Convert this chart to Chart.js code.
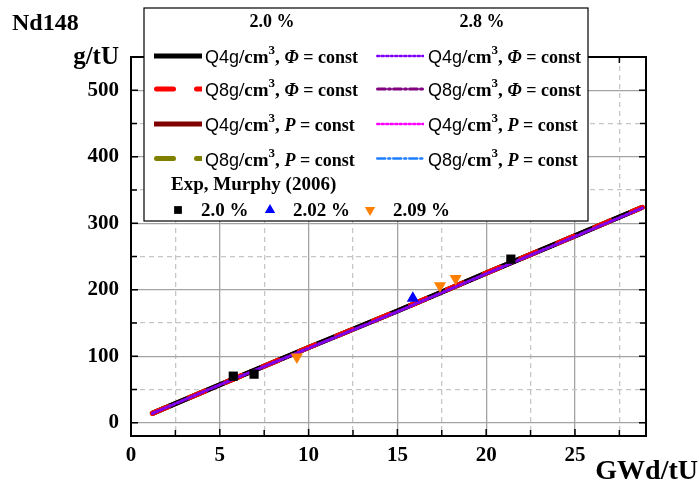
<!DOCTYPE html>
<html>
<head>
<meta charset="utf-8">
<script src="https://cdn.jsdelivr.net/npm/chart.js@4.4.1/dist/chart.umd.min.js"></script>
<style>
  html, body { margin: 0; padding: 0; background: #fff; }
</style>
</head>
<body>
<canvas id="chart" width="699" height="483"></canvas>
<script>
// burnup in GWd/tU, Nd148 in g/tU
var calcBurnup = [1.2, 5, 10, 15, 20, 25, 28.8];

var nd_20_q4_phi = [14, 57, 113, 168, 225, 281, 324];
var nd_20_q8_phi = [14, 57, 113, 168, 225, 281, 324];
var nd_20_q4_p   = [14, 57, 113, 168, 225, 281, 324];
var nd_20_q8_p   = [14, 57, 113, 168, 225, 281, 324];
var nd_28_q4_phi = [14, 57, 112, 167, 224, 280, 323];
var nd_28_q8_phi = [14, 57, 112, 167, 224, 280, 323];
var nd_28_q4_p   = [14, 57, 112, 167, 224, 280, 323];
var nd_28_q8_p   = [14, 57, 112, 167, 224, 280, 323];

// Murphy (2006) measurements
var exp20Burnup  = [5.76, 6.93, 21.39];
var exp20Nd      = [70, 73, 246];
var exp202Burnup = [15.87];
var exp202Nd     = [187];
var exp209Burnup = [9.34, 17.4, 18.28];
var exp209Nd     = [99, 206, 217];

// grid / tick positions (labels only on the major ones)
var xTicks = [0, 2.5, 5, 7.5, 10, 12.5, 15, 17.5, 20, 22.5, 25, 27.5];
var xLabels = ['0', '', '5', '', '10', '', '15', '', '20', '', '25', ''];
var yTicks = [0, 50, 100, 150, 200, 250, 300, 350, 400, 450, 500];
var yLabels = ['0', '', '100', '', '200', '', '300', '', '400', '', '500'];

var SERIF = '"Liberation Serif", "Times New Roman", serif';

function pts(xs, ys) {
    return xs.map(function (x, i) { return { x: x, y: ys[i] }; });
}

function calcLine(label, ys, color, width, dash, order) {
    return {
        label: label,
        data: pts(calcBurnup, ys),
        showLine: true,
        borderColor: color,
        borderWidth: width,
        borderDash: dash,
        borderCapStyle: dash.length ? 'round' : 'butt',
        pointRadius: 0,
        order: order
    };
}

function expSet(label, xs, ys, color, style, rot, r) {
    return {
        label: label,
        data: pts(xs, ys),
        showLine: false,
        pointStyle: style,
        rotation: rot,
        pointRadius: r,
        pointBackgroundColor: color,
        pointBorderColor: color,
        pointBorderWidth: 0,
        order: 0
    };
}

var datasets = [
    calcLine('2.0 Q4 phi', nd_20_q4_phi, '#000000', 5, [], 8),
    calcLine('2.0 Q8 phi', nd_20_q8_phi, '#ff0000', 5, [17, 23], 5),
    calcLine('2.0 Q4 P', nd_20_q4_p, '#800000', 5, [], 9),
    calcLine('2.0 Q8 P', nd_20_q8_p, '#808000', 5, [17, 23], 7),
    calcLine('2.8 Q4 phi', nd_28_q4_phi, '#8000ff', 2.5, [2, 2.5], 1),
    calcLine('2.8 Q8 phi', nd_28_q8_phi, '#800080', 3, [8, 3, 2, 3], 2),
    calcLine('2.8 Q4 P', nd_28_q4_p, '#ff00ff', 2.5, [2, 2.5], 3),
    calcLine('2.8 Q8 P', nd_28_q8_p, '#1e7fff', 2.5, [8, 3, 2, 3], 4),
    expSet('2.0 %', exp20Burnup, exp20Nd, '#000000', 'rect', 0, 6.5),
    expSet('2.02 %', exp202Burnup, exp202Nd, '#0000ff', 'triangle', 0, 7),
    expSet('2.09 %', exp209Burnup, exp209Nd, '#ff8000', 'triangle', 180, 7)
];

function tickIndex(c) {
    return c && c.tick ? c.index : -1;
}

function gridColor(labels) {
    return function (c) {
        var i = tickIndex(c);
        return (i < 0 || labels[i] !== '') ? '#a3a3a3' : '#c6c6c6';
    };
}
function gridDash(labels) {
    return function (c) {
        var i = tickIndex(c);
        return (i < 0 || labels[i] !== '') ? [] : [5, 4];
    };
}

function richText(ctx, segs, x, y) {
    segs.forEach(function (s) {
        ctx.font = s.f;
        ctx.fillText(s.t, x, y + (s.dy || 0));
        x += ctx.measureText(s.t).width;
    });
    return x;
}

function entrySegs(q, sym) {
    return [
        { t: q, f: '18px "Liberation Sans", Arial, sans-serif' },
        { t: '/cm', f: 'bold 19px ' + SERIF },
        { t: '3', f: 'bold 13px ' + SERIF, dy: -9 },
        { t: ', ', f: 'bold 19px ' + SERIF },
        { t: sym, f: 'italic bold 18px ' + SERIF },
        { t: ' = const', f: 'bold 18px ' + SERIF }
    ];
}

var legendRows = [
    { left: 0, right: 4, q: 'Q4g', sym: '\u03A6' },
    { left: 1, right: 5, q: 'Q8g', sym: '\u03A6' },
    { left: 2, right: 6, q: 'Q4g', sym: 'P' },
    { left: 3, right: 7, q: 'Q8g', sym: 'P' }
];
var rowY = [56, 89, 124, 158.5];

var decorPlugin = {
    id: 'decor',
    afterDraw: function (chart) {
        var ctx = chart.ctx;
        var a = chart.chartArea;
        var xs = chart.scales.x, ys = chart.scales.y;
        ctx.save();

        // frame
        ctx.strokeStyle = '#000';
        ctx.lineWidth = 2;
        ctx.strokeRect(a.left, a.top, a.right - a.left, a.bottom - a.top);

        // inward tick marks
        ctx.lineWidth = 1.5;
        ctx.beginPath();
        xs.ticks.forEach(function (t, i) {
            if (t.value <= xs.min || t.value >= xs.max) return;
            var px = xs.getPixelForValue(t.value);
            var len = xLabels[i] !== '' ? 7 : 6;
            ctx.moveTo(px, a.bottom); ctx.lineTo(px, a.bottom - len);
            ctx.moveTo(px, a.top); ctx.lineTo(px, a.top + len);
        });
        ys.ticks.forEach(function (t, i) {
            if (t.value <= ys.min || t.value >= ys.max) return;
            var py = ys.getPixelForValue(t.value);
            var len = yLabels[i] !== '' ? 7 : 6;
            ctx.moveTo(a.left, py); ctx.lineTo(a.left + len, py);
            ctx.moveTo(a.right, py); ctx.lineTo(a.right - len, py);
        });
        ctx.stroke();

        // axis titles
        ctx.fillStyle = '#000';
        ctx.textBaseline = 'alphabetic';
        ctx.textAlign = 'left';
        ctx.font = 'bold 24px ' + SERIF;
        ctx.fillText('Nd148', 12, 30);
        ctx.textAlign = 'right';
        ctx.font = 'bold 25px ' + SERIF;
        ctx.fillText('g/tU', 119, 64);
        ctx.font = 'bold 28px ' + SERIF;
        ctx.fillText('GWd/tU', 698, 479);

        // legend box
        var L = 144, T = 8, R = 588, B = 221;
        ctx.fillStyle = '#fff';
        ctx.fillRect(L, T, R - L, B - T);
        ctx.strokeStyle = '#000';
        ctx.lineWidth = 1.2;
        ctx.strokeRect(L, T, R - L, B - T);

        ctx.fillStyle = '#000';
        ctx.textAlign = 'center';
        ctx.font = 'bold 18px ' + SERIF;
        ctx.fillText('2.0 %', 272, 27);
        ctx.fillText('2.8 %', 482, 27);

        function sample(ds, x1, x2, y) {
            ctx.save();
            ctx.beginPath();
            ctx.rect(x1, y - 6, x2 - x1, 12);
            ctx.clip();
            ctx.strokeStyle = ds.borderColor;
            ctx.lineWidth = ds.borderWidth;
            ctx.setLineDash(ds.borderDash);
            ctx.lineCap = ds.borderCapStyle;
            var off = ds.borderCapStyle === 'round' ? ds.borderWidth / 2 : 0;
            ctx.beginPath();
            ctx.moveTo(x1 + off, y);
            ctx.lineTo(x2, y);
            ctx.stroke();
            ctx.restore();
        }

        ctx.textAlign = 'left';
        legendRows.forEach(function (row, i) {
            var y = rowY[i];
            sample(datasets[row.left], 154, 202, y);
            sample(datasets[row.right], 376, 424, y);
            ctx.fillStyle = '#000';
            richText(ctx, entrySegs(row.q, row.sym), 205, y + 7);
            richText(ctx, entrySegs(row.q, row.sym), 428, y + 7);
        });

        ctx.font = 'bold 19px ' + SERIF;
        ctx.fillText('Exp, Murphy (2006)', 171, 190);

        var marks = [
            { ds: 8, x: 178, tx: 201 },
            { ds: 9, x: 270, tx: 293 },
            { ds: 10, x: 370, tx: 393 }
        ];
        marks.forEach(function (m) {
            var ds = datasets[m.ds];
            ctx.fillStyle = ds.pointBackgroundColor;
            ctx.strokeStyle = ds.pointBorderColor;
            Chart.helpers.drawPoint(ctx, {
                pointStyle: ds.pointStyle,
                rotation: ds.rotation,
                radius: ds.pointRadius - 1,
                borderWidth: 0
            }, m.x, 210);
            ctx.fillStyle = '#000';
            ctx.font = 'bold 19px ' + SERIF;
            ctx.fillText(ds.label, m.tx, 216);
        });

        ctx.restore();
    }
};

Chart.defaults.font.family = SERIF;
Chart.defaults.color = '#000';

new Chart(document.getElementById('chart'), {
    type: 'scatter',
    data: { datasets: datasets },
    options: {
        responsive: false,
        animation: false,
        layout: { padding: { left: 0, top: 57, right: 53, bottom: 0 } },
        plugins: {
            legend: { display: false },
            tooltip: { enabled: false }
        },
        scales: {
            x: {
                type: 'linear',
                min: 0,
                max: 29,
                afterFit: function (s) { s.height = 47; },
                afterBuildTicks: function (s) {
                    s.ticks = xTicks.map(function (v) { return { value: v }; });
                },
                ticks: {
                    autoSkip: false,
                    maxRotation: 0,
                    padding: 7,
                    font: { size: 21, weight: 'bold' },
                    callback: function (v, i) { return xLabels[i]; }
                },
                grid: {
                    drawTicks: false,
                    color: gridColor(xLabels),
                    lineWidth: 1.3
                },
                border: { display: false, dash: gridDash(xLabels) }
            },
            y: {
                type: 'linear',
                min: -20,
                max: 550,
                afterFit: function (s) { s.width = 131; },
                afterBuildTicks: function (s) {
                    s.ticks = yTicks.map(function (v) { return { value: v }; });
                },
                ticks: {
                    autoSkip: false,
                    padding: 12,
                    font: { size: 21, weight: 'bold' },
                    callback: function (v, i) { return yLabels[i]; }
                },
                grid: {
                    drawTicks: false,
                    color: gridColor(yLabels),
                    lineWidth: 1.3
                },
                border: { display: false, dash: gridDash(yLabels) }
            }
        }
    },
    plugins: [decorPlugin]
});
</script>
</body>
</html>
